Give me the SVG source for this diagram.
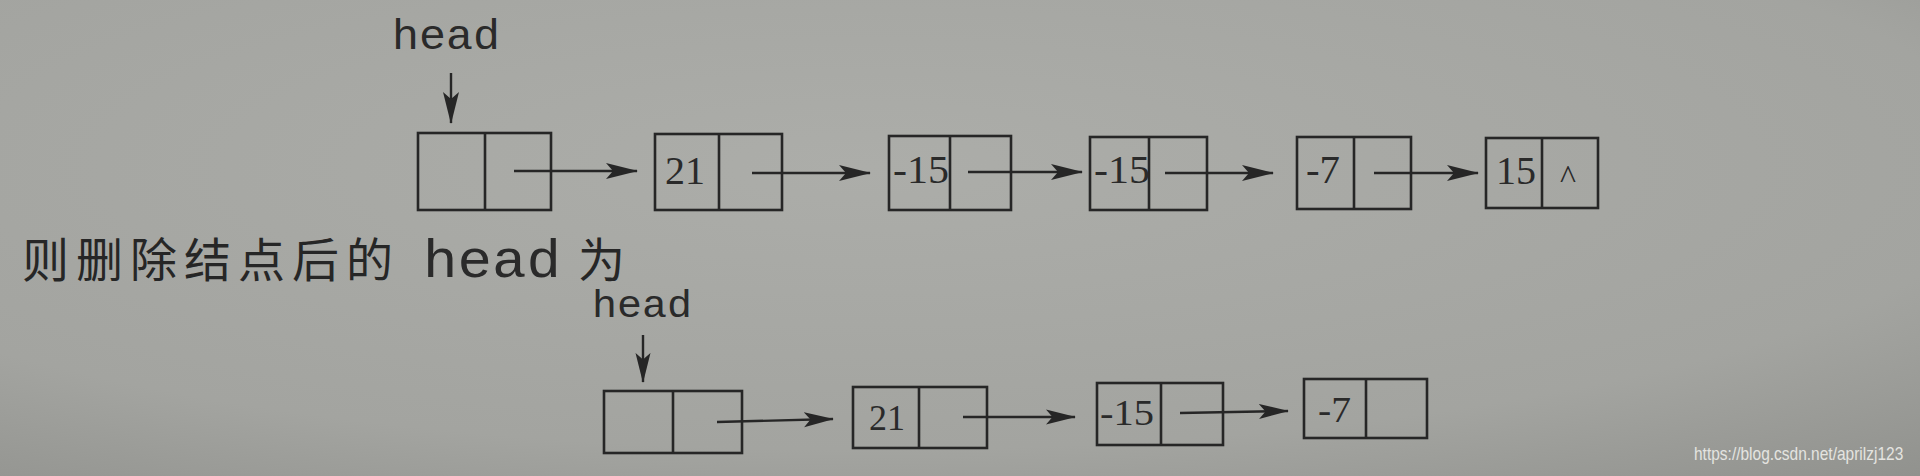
<svg xmlns="http://www.w3.org/2000/svg" width="1920" height="476" viewBox="0 0 1920 476">
<defs>
<radialGradient id="paper" cx="0.45" cy="0.35" r="0.85">
<stop offset="0" stop-color="#acada9"/>
<stop offset="0.7" stop-color="#a3a4a0"/>
<stop offset="1" stop-color="#91928e"/>
</radialGradient>
<marker id="ah" viewBox="0 0 32 18" refX="31" refY="9" markerWidth="32" markerHeight="18" markerUnits="userSpaceOnUse" orient="auto">
<path d="M0,1 L32,9 L0,17 L7,9 Z" fill="#262626"/>
</marker>
<marker id="ahs" viewBox="0 0 32 18" refX="31" refY="9" markerWidth="30" markerHeight="17" markerUnits="userSpaceOnUse" orient="auto">
<path d="M0,1 L32,9 L0,17 L7,9 Z" fill="#262626"/>
</marker>
</defs>
<style>
.box{fill:none;stroke:#262626;stroke-width:2.6}
.div{stroke:#262626;stroke-width:2.6}
.conn{stroke:#262626;stroke-width:2.4;fill:none}
.mono{font-family:"Liberation Mono","DejaVu Sans Mono",monospace;fill:#2a2a2a}
.num{font-family:"Liberation Serif","DejaVu Serif",serif;fill:#2a2a2a}
.cjk{font-family:"Noto Sans CJK SC","Noto Sans CJK JP",sans-serif;fill:#262626}
.wm{font-family:"Liberation Sans","DejaVu Sans",sans-serif;fill:#e4e4e0}
</style>
<rect x="0" y="0" width="1920" height="476" fill="url(#paper)"/>

<!-- labels -->
<text id="head-top" class="mono" x="392" y="49" font-size="42" textLength="108" lengthAdjust="spacingAndGlyphs">head</text>
<text id="caption" class="cjk" x="22" y="277" font-size="47" letter-spacing="7">则删除结点后的</text>
<text id="caption-head" class="mono" x="423" y="277" font-size="54" textLength="138" lengthAdjust="spacingAndGlyphs">head</text>
<text id="caption-end" class="cjk" x="578" y="277" font-size="47">为</text>
<text id="head-bottom" class="mono" x="592" y="317" font-size="38" textLength="100" lengthAdjust="spacingAndGlyphs">head</text>

<!-- top list -->
<g id="t0"><rect class="box" x="418" y="133" width="133" height="77"/><line class="div" x1="485" y1="133" x2="485" y2="210"/></g>
<g id="t1"><rect class="box" x="655" y="134" width="127" height="76"/><line class="div" x1="719" y1="134" x2="719" y2="210"/><text class="num" x="665" y="184" font-size="40">21</text></g>
<g id="t2"><rect class="box" x="889" y="136" width="122" height="74"/><line class="div" x1="950" y1="136" x2="950" y2="210"/><text class="num" x="893" y="183" font-size="40" textLength="56" lengthAdjust="spacingAndGlyphs">-15</text></g>
<g id="t3"><rect class="box" x="1090" y="137" width="117" height="73"/><line class="div" x1="1149" y1="137" x2="1149" y2="210"/><text class="num" x="1094" y="183" font-size="40" textLength="56" lengthAdjust="spacingAndGlyphs">-15</text></g>
<g id="t4"><rect class="box" x="1297" y="137" width="114" height="72"/><line class="div" x1="1354" y1="137" x2="1354" y2="209"/><text class="num" x="1306" y="183" font-size="40" textLength="34" lengthAdjust="spacingAndGlyphs">-7</text></g>
<g id="t5"><rect class="box" x="1486" y="138" width="112" height="70"/><line class="div" x1="1542" y1="138" x2="1542" y2="208"/><text class="num" x="1496" y="184" font-size="40">15</text><text class="num" x="1560" y="188" font-size="34">^</text></g>

<!-- bottom list -->
<g id="b0"><rect class="box" x="604" y="391" width="138" height="62"/><line class="div" x1="673" y1="391" x2="673" y2="453"/></g>
<g id="b1"><rect class="box" x="853" y="387" width="134" height="61"/><line class="div" x1="919" y1="387" x2="919" y2="448"/><text class="num" x="869" y="430" font-size="36">21</text></g>
<g id="b2"><rect class="box" x="1097" y="383" width="126" height="62"/><line class="div" x1="1161" y1="383" x2="1161" y2="445"/><text class="num" x="1100" y="425" font-size="36" textLength="54" lengthAdjust="spacingAndGlyphs">-15</text></g>
<g id="b3"><rect class="box" x="1304" y="379" width="123" height="59"/><line class="div" x1="1366" y1="379" x2="1366" y2="438"/><text class="num" x="1318" y="422" font-size="36" textLength="33" lengthAdjust="spacingAndGlyphs">-7</text></g>

<!-- connectors -->
<g id="connectors">
<line class="conn" x1="451" y1="73" x2="451" y2="123" marker-end="url(#ah)"/>
<line class="conn" x1="514" y1="171" x2="637" y2="171" marker-end="url(#ah)"/>
<line class="conn" x1="752" y1="173" x2="870" y2="173" marker-end="url(#ah)"/>
<line class="conn" x1="968" y1="172" x2="1082" y2="172" marker-end="url(#ah)"/>
<line class="conn" x1="1165" y1="173" x2="1273" y2="173" marker-end="url(#ah)"/>
<line class="conn" x1="1374" y1="173" x2="1478" y2="173" marker-end="url(#ah)"/>
<line class="conn" x1="643" y1="335" x2="643" y2="382" marker-end="url(#ahs)"/>
<line class="conn" x1="717" y1="422" x2="833" y2="419" marker-end="url(#ahs)"/>
<line class="conn" x1="963" y1="417" x2="1075" y2="417" marker-end="url(#ahs)"/>
<line class="conn" x1="1180" y1="413" x2="1288" y2="411" marker-end="url(#ahs)"/>
</g>

<text id="watermark" class="wm" transform="translate(1694,460) scale(1,1.2)" x="0" y="0" font-size="15.5">https://blog.csdn.net/aprilzj123</text>
</svg>
